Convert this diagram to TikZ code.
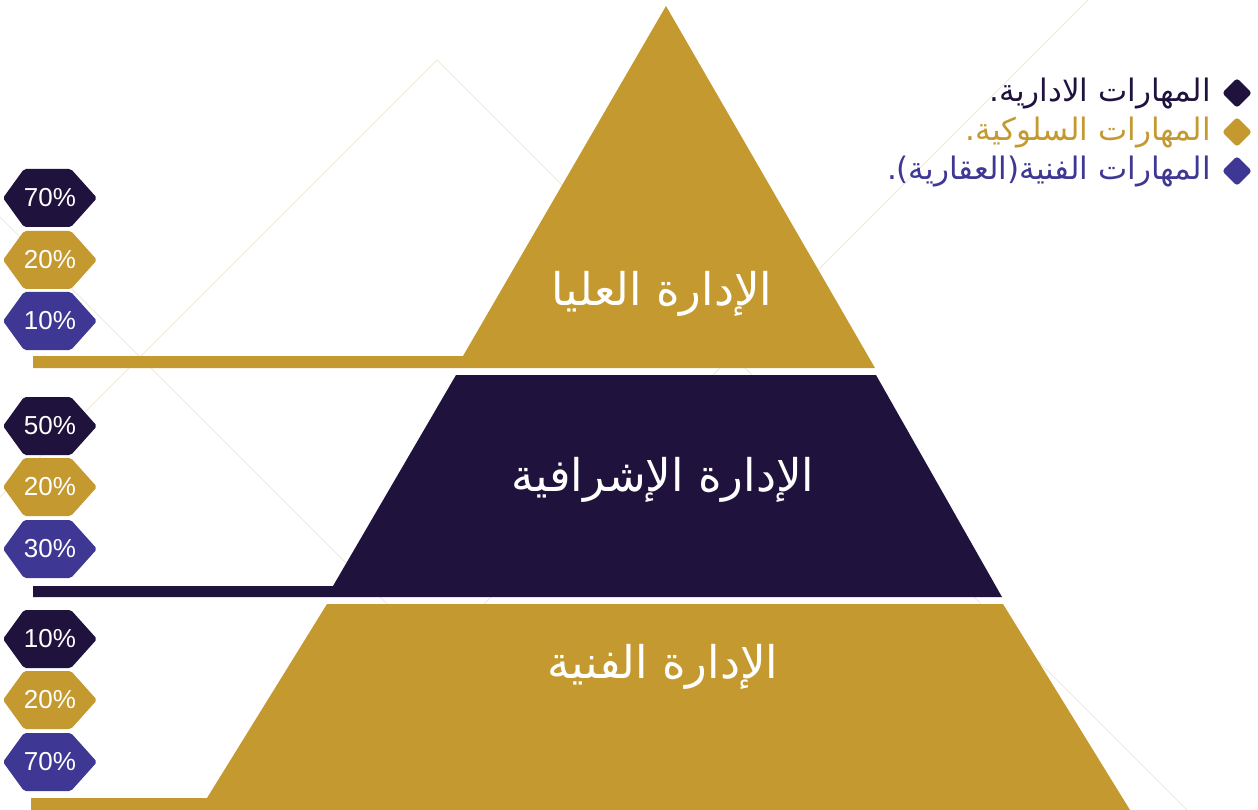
\documentclass[tikz,border=0pt]{standalone}
\usepackage{fontspec}
\setmainfont{Liberation Sans}
\newfontfamily\arabicfont[Script=Arabic]{DejaVu Sans}
\TeXXeTstate=1
\definecolor{navy}{RGB}{31,18,61}
\definecolor{gold}{RGB}{196,154,48}
\definecolor{violet}{RGB}{62,55,148}
\definecolor{faint}{RGB}{242,233,210}
\tikzset{
  bgline/.style={draw=faint, line width=1pt},
  title/.style={text=white, font=\arabicfont\fontsize{45}{50}\selectfont, inner sep=0pt},
  pct/.style={text=white, font=\fontsize{26}{29}\selectfont, inner sep=0pt},
  legendtext/.style={anchor=east, inner sep=0pt, font=\arabicfont\fontsize{31}{35}\selectfont},
  legendmark/.style={fill=#1, minimum size=21pt, inner sep=0pt, rounded corners=3pt, rotate=45}
}
\newcommand\hexbadge[4]{%
  \begin{scope}[shift={(0,#2)}]
    \fill[#3, rounded corners=2pt] (3,0) -- (24,-29) -- (71,-29) -- (97,0) -- (71,29) -- (24,29) -- cycle;
  \end{scope}
  \node[pct] (#1) at (50,#2) {#4};
}
\begin{document}
\begin{tikzpicture}[x=1pt,y=-1pt]
\useasboundingbox (0,0) rectangle (1258,810);
% faint background lines
\draw[bgline] (0,497) -- (437,60) -- (1187,810);
\draw[bgline] (0,217) -- (593,810);
\draw[bgline] (1088,0) -- (278,810);
% pyramid bands
\fill[gold] (33,356) -- (463,356) -- (666,6) -- (875,368) -- (33,368) -- cycle;
\fill[navy] (33,586) -- (333,586) -- (456,375) -- (876,375) -- (1002,597) -- (33,597) -- cycle;
\fill[gold] (31,798) -- (207,798) -- (327,604) -- (1003,604) -- (1130,810) -- (31,810) -- cycle;
% band titles
\node[title] (top) at (662,294) {\beginR الإدارة العليا\endR};
\node[title] (mid) at (663,480) {\beginR الإدارة الإشرافية\endR};
\node[title] (low) at (663,667) {\beginR الإدارة الفنية\endR};
% badges
\hexbadge{a1}{198}{navy}{70\%}
\hexbadge{a2}{260}{gold}{20\%}
\hexbadge{a3}{321}{violet}{10\%}
\hexbadge{b1}{426}{navy}{50\%}
\hexbadge{b2}{487}{gold}{20\%}
\hexbadge{b3}{549}{violet}{30\%}
\hexbadge{c1}{639}{navy}{10\%}
\hexbadge{c2}{700}{gold}{20\%}
\hexbadge{c3}{762}{violet}{70\%}
% legend
\node[legendmark=navy] (m1) at (1237,93) {};
\node[legendmark=gold] (m2) at (1237,132) {};
\node[legendmark=violet] (m3) at (1237,171) {};
\node[legendtext, text=navy] (l1) at (1211,94) {\beginR المهارات الادارية.\endR};
\node[legendtext, text=gold] (l2) at (1211,133) {\beginR المهارات السلوكية.\endR};
\node[legendtext, text=violet] (l3) at (1211,172) {\beginR المهارات الفنية(العقارية).\endR};
\end{tikzpicture}
\end{document}
